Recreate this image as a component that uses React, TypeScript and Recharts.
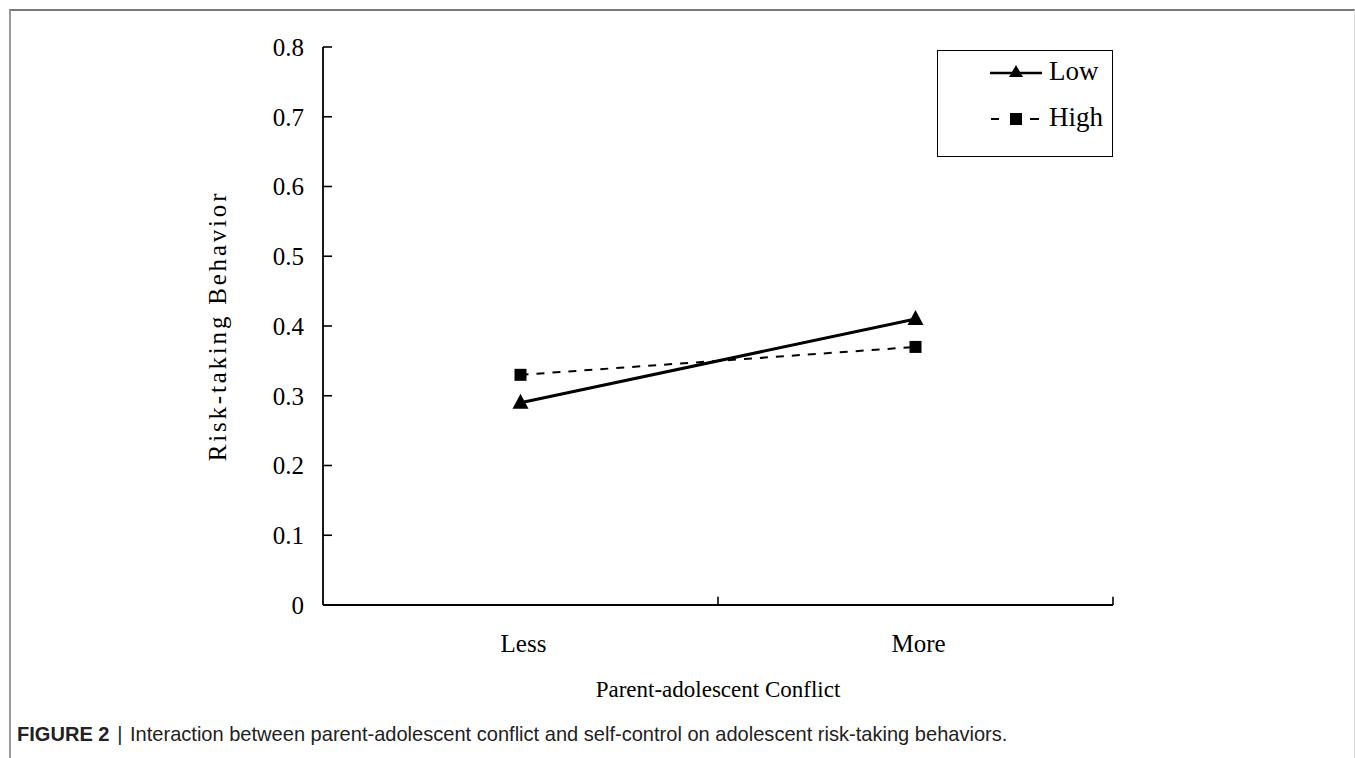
import React from 'react';
import {
  LineChart,
  Line,
  XAxis,
  YAxis,
  Legend,
  ReferenceLine,
} from 'recharts';

// values
const categories = ['Less', 'More'];
const lowValues = [0.29, 0.41];
const highValues = [0.33, 0.37];
const yTicks = [0, 0.1, 0.2, 0.3, 0.4, 0.5, 0.6, 0.7, 0.8];
const bandEdges = [1, 2];

const SERIF = '"Liberation Serif", "DejaVu Serif", serif';
const SANS = '"Liberation Sans", Arial, sans-serif';

const data = categories.map((name, i) => ({
  name,
  pos: i + 0.5,
  low: lowValues[i],
  high: highValues[i],
}));

const YTick = ({ x, y, payload }: any) => (
  <g>
    {payload.value > 0 && (
      <line x1={x} x2={x + 9} y1={y} y2={y} stroke="#000" strokeWidth={1.6} />
    )}
    <text
      x={x - 19}
      y={y}
      dy="0.35em"
      textAnchor="end"
      fontFamily={SERIF}
      fontSize={25}
      fill="#000"
    >
      {payload.value === 0 ? '0' : payload.value.toFixed(1)}
    </text>
  </g>
);

const XTick = ({ x, y, payload }: any) => (
  <text x={x + 3} y={y + 47} textAnchor="middle" fontFamily={SERIF} fontSize={25} fill="#000">
    {categories[Math.floor(payload.value)]}
  </text>
);

const TriangleDot = ({ cx, cy }: any) => (
  <polygon points={`${cx},${cy - 9} ${cx - 8},${cy + 6} ${cx + 8},${cy + 6}`} fill="#000" />
);

const SquareDot = ({ cx, cy }: any) => (
  <rect x={cx - 6} y={cy - 6} width={12} height={12} fill="#000" />
);

const LegendBox = () => (
  <div
    style={{
      width: 176,
      height: 107,
      border: '1.5px solid #000',
      background: '#fff',
      boxSizing: 'border-box',
      position: 'relative',
      fontFamily: SERIF,
      fontSize: 27,
      color: '#000',
    }}
  >
    <svg width={60} height={100} style={{ position: 'absolute', left: 50, top: 0 }}>
      <line x1={2} x2={54} y1={22} y2={22} stroke="#000" strokeWidth={2.5} />
      <polygon points="28,14 21,26 35,26" fill="#000" />
      <line x1={3} x2={11} y1={68} y2={68} stroke="#000" strokeWidth={2} />
      <rect x={22} y={62} width={12} height={12} fill="#000" />
      <line x1={42} x2={51} y1={68} y2={68} stroke="#000" strokeWidth={2} />
    </svg>
    <span style={{ position: 'absolute', left: 111, top: 5 }}>Low</span>
    <span style={{ position: 'absolute', left: 111, top: 51 }}>High</span>
  </div>
);

export default function App() {
  return (
    <div style={{ position: 'absolute', left: 0, top: 0, width: 1355, height: 758, background: '#fff', overflow: 'hidden' }}>
      {/* figure frame */}
      <div
        style={{
          position: 'absolute',
          left: 9,
          top: 9,
          width: 1346,
          height: 800,
          borderTop: '2px solid #7a7a7a',
          borderLeft: '2px solid #9a9a9a',
          borderRight: '1px solid #ddd',
          boxSizing: 'border-box',
        }}
      />
      <div style={{ position: 'absolute', left: 0, top: 0 }}>
        <LineChart
          width={1355}
          height={758}
          data={data}
          margin={{ top: 47, right: 242, left: 243, bottom: 113 }}
        >
          <XAxis
            dataKey="pos"
            type="number"
            domain={[0, 2]}
            ticks={[0.5, 1.5]}
            height={40}
            tickLine={false}
            tickSize={0}
            tickMargin={0}
            tick={<XTick />}
            axisLine={{ stroke: '#000', strokeWidth: 1.8 }}
            label={{
              content: ({ viewBox }: any) => (
                <text
                  x={viewBox.x + viewBox.width / 2}
                  y={viewBox.y + 92}
                  textAnchor="middle"
                  fontFamily={SERIF}
                  fontSize={23}
                  fill="#000"
                >
                  Parent-adolescent Conflict
                </text>
              ),
            }}
          />
          <YAxis
            type="number"
            domain={[0, 0.8]}
            ticks={yTicks}
            width={80}
            tickLine={false}
            tickSize={0}
            tickMargin={0}
            tick={<YTick />}
            axisLine={{ stroke: '#000', strokeWidth: 1.8 }}
            label={{
              content: ({ viewBox }: any) => {
                const cx = viewBox.x + viewBox.width - 106;
                const cy = viewBox.y + viewBox.height / 2;
                return (
                  <text
                    x={cx}
                    y={cy}
                    transform={`rotate(-90, ${cx}, ${cy})`}
                    textAnchor="middle"
                    dominantBaseline="central"
                    fontFamily={SERIF}
                    fontSize={25}
                    letterSpacing={2.8}
                    fill="#000"
                  >
                    Risk-taking Behavior
                  </text>
                );
              },
            }}
          />
          {bandEdges.map((e) => (
            <ReferenceLine
              key={e}
              segment={[
                { x: e, y: 0 },
                { x: e, y: 0.012 },
              ]}
              stroke="#000"
              strokeWidth={1.6}
            />
          ))}
          <Line
            dataKey="high"
            stroke="#000"
            strokeWidth={2}
            strokeDasharray="8 8"
            dot={<SquareDot />}
            activeDot={false}
            isAnimationActive={false}
          />
          <Line
            dataKey="low"
            stroke="#000"
            strokeWidth={3}
            dot={<TriangleDot />}
            activeDot={false}
            isAnimationActive={false}
          />
          <Legend
            layout="vertical"
            align="center"
            verticalAlign="middle"
            content={<LegendBox />}
            wrapperStyle={{ left: 937, top: 50, width: 176, height: 107 }}
          />
        </LineChart>
      </div>
      <div
        style={{
          position: 'absolute',
          left: 17,
          top: 722,
          fontFamily: SANS,
          fontSize: 21,
          color: '#222',
          whiteSpace: 'nowrap',
          transform: 'scaleX(0.955)',
          transformOrigin: 'left center',
        }}
      >
        <b>FIGURE 2</b>
        <span style={{ margin: '0 8px' }}>|</span>
        Interaction between parent-adolescent conflict and self-control on adolescent risk-taking behaviors.
      </div>
    </div>
  );
}
